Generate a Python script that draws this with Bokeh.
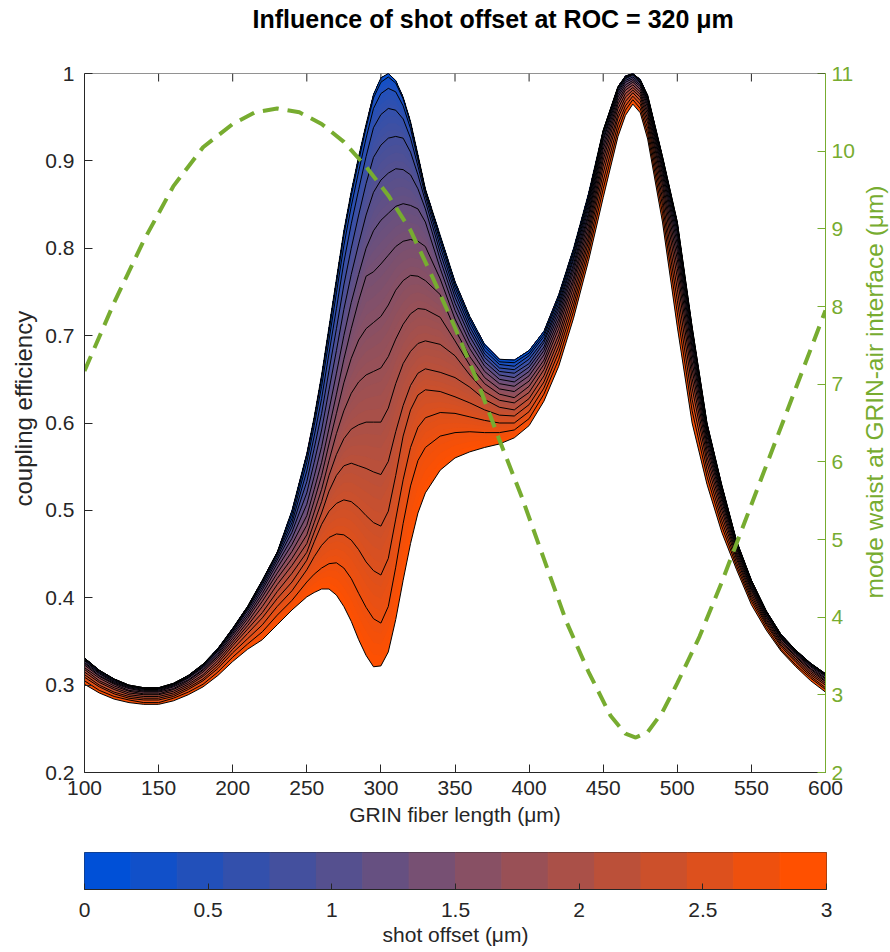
import numpy as np
from bokeh.plotting import figure
from bokeh.models import LinearAxis, Range1d, FixedTicker, Span, Title
from bokeh.layouts import column, row
from bokeh.embed import file_html
from bokeh.resources import INLINE

# ---------------- data ----------------
fiber_length = [100, 110, 120, 130, 140, 150, 160, 170, 180, 190, 200, 210, 220, 230, 240,
                250, 255, 260, 265, 270, 275, 280, 285, 290, 295, 300, 305, 310, 315, 320, 325, 330,
                340, 350, 360, 370, 380, 390, 400, 410, 420, 430, 440, 450, 460,
                465, 470, 475, 480, 490, 500, 510, 520, 530, 540, 550, 560, 570, 580, 590, 600]

shot_offsets = [0.0, 0.2, 0.4, 0.6, 0.8, 1.0, 1.2, 1.4, 1.6, 1.8, 2.0, 2.2, 2.4, 2.6, 2.8, 3.0]

eff_00 = [.331, .317, .307, .300, .297, .297, .302, .311, .324, .342, .365, .390, .420, .452, .500,
          .565, .607, .655, .710, .765, .820, .865, .905, .942, .976, .995, 1.000, .992, .973, .945, .907, .868,
          .815, .762, .722, .690, .673, .672, .683, .705, .747, .800, .862, .935, .985,
          .997, 1.000, .993, .975, .905, .830, .710, .600, .529, .465, .420, .385, .358, .340, .325, .313]
eff_02 = [.331, .317, .307, .300, .297, .297, .302, .311, .324, .342, .365, .390, .420, .452, .496,
          .562, .604, .651, .705, .760, .815, .860, .900, .938, .972, .990, .996, .989, .971, .943, .905, .867,
          .812, .759, .719, .687, .670, .669, .680, .702, .744, .797, .859, .935, .985,
          .997, 1.000, .993, .975, .905, .830, .710, .600, .529, .465, .420, .385, .358, .340, .325, .313]
eff_04 = [.331, .317, .307, .300, .297, .297, .302, .311, .324, .341, .364, .389, .419, .451, .491,
          .555, .597, .642, .695, .749, .803, .848, .888, .926, .960, .977, .983, .979, .963, .937, .901, .864,
          .808, .755, .715, .683, .667, .665, .677, .699, .741, .794, .856, .934, .984,
          .996, .999, .992, .974, .904, .828, .708, .599, .528, .464, .420, .385, .358, .340, .325, .313]
eff_06 = [.330, .316, .306, .299, .296, .296, .301, .310, .323, .341, .364, .388, .417, .449, .486,
          .545, .585, .628, .680, .731, .784, .828, .867, .905, .938, .953, .960, .958, .948, .926, .894, .860,
          .802, .750, .710, .679, .663, .661, .673, .695, .737, .790, .853, .932, .983,
          .995, .999, .992, .973, .902, .825, .706, .597, .527, .464, .419, .384, .357, .339, .324, .312]
eff_08 = [.329, .315, .305, .299, .296, .296, .301, .309, .322, .340, .362, .387, .415, .446, .481,
          .533, .571, .611, .660, .708, .758, .800, .838, .874, .904, .918, .926, .928, .926, .910, .884, .854,
          .795, .744, .705, .675, .659, .657, .668, .692, .733, .787, .849, .930, .981,
          .994, .998, .990, .971, .900, .822, .702, .595, .525, .463, .418, .383, .357, .339, .324, .312]
eff_10 = [.328, .314, .304, .298, .295, .295, .300, .309, .321, .339, .361, .385, .412, .443, .475,
          .520, .555, .592, .638, .683, .730, .770, .805, .838, .864, .878, .886, .891, .890, .884, .868, .845,
          .787, .737, .699, .670, .655, .652, .664, .687, .729, .782, .845, .926, .979,
          .992, .996, .989, .969, .897, .817, .698, .592, .523, .461, .417, .383, .356, .338, .323, .311]
eff_12 = [.326, .313, .303, .297, .294, .294, .299, .308, .320, .337, .359, .382, .409, .439, .468,
          .507, .539, .573, .615, .657, .700, .738, .770, .800, .820, .832, .840, .848, .851, .849, .845, .830,
          .777, .729, .692, .665, .650, .647, .659, .683, .724, .778, .840, .923, .976,
          .990, .994, .987, .967, .893, .811, .692, .589, .520, .460, .416, .382, .355, .337, .322, .310]
eff_14 = [.325, .311, .302, .296, .293, .293, .298, .306, .318, .335, .357, .379, .405, .434, .461,
          .494, .524, .555, .594, .633, .673, .708, .740, .768, .773, .782, .792, .802, .808, .810, .808, .802,
          .765, .719, .685, .659, .645, .642, .654, .678, .719, .773, .836, .918, .973,
          .987, .992, .985, .964, .889, .804, .686, .585, .517, .458, .414, .380, .354, .336, .321, .308]
eff_16 = [.323, .310, .301, .294, .292, .292, .296, .305, .317, .333, .354, .376, .401, .428, .453,
          .483, .511, .540, .576, .611, .646, .674, .695, .708, .715, .722, .735, .752, .763, .769, .768, .763,
          .747, .707, .676, .652, .639, .636, .648, .672, .714, .767, .831, .913, .969,
          .984, .990, .982, .961, .884, .796, .679, .580, .514, .456, .412, .379, .353, .335, .319, .307]
eff_18 = [.320, .308, .299, .293, .290, .290, .295, .303, .315, .331, .351, .372, .396, .422, .445,
          .472, .498, .524, .557, .588, .614, .634, .647, .655, .659, .663, .676, .696, .713, .725, .731, .730,
          .721, .694, .666, .645, .633, .629, .642, .667, .708, .762, .825, .907, .965,
          .981, .987, .979, .957, .878, .787, .670, .575, .510, .453, .410, .377, .351, .333, .318, .305]
eff_20 = [.318, .305, .297, .291, .289, .289, .293, .301, .312, .328, .348, .368, .390, .415, .437,
          .462, .486, .510, .540, .564, .582, .593, .598, .601, .601, .601, .617, .645, .668, .682, .691, .694,
          .690, .677, .655, .636, .626, .623, .635, .661, .701, .756, .819, .901, .960,
          .977, .984, .976, .953, .872, .777, .661, .569, .505, .450, .408, .375, .350, .332, .316, .304]
eff_22 = [.315, .303, .295, .289, .287, .287, .291, .299, .310, .325, .345, .364, .383, .407, .428,
          .452, .475, .497, .522, .540, .551, .554, .551, .548, .544, .541, .556, .590, .620, .643, .657, .662,
          .658, .652, .641, .627, .618, .615, .628, .654, .695, .749, .813, .894, .954,
          .973, .981, .973, .948, .865, .766, .651, .562, .500, .447, .405, .373, .348, .330, .314, .302]
eff_24 = [.312, .300, .292, .287, .285, .285, .289, .297, .307, .322, .341, .359, .377, .399, .418,
          .443, .464, .484, .499, .508, .512, .510, .503, .494, .486, .482, .499, .540, .585, .615, .632, .638,
          .636, .630, .623, .615, .609, .608, .621, .647, .688, .742, .807, .886, .949,
          .968, .978, .969, .943, .857, .753, .640, .555, .494, .444, .402, .371, .346, .328, .312, .300]
eff_26 = [.309, .298, .290, .285, .283, .283, .287, .295, .305, .319, .337, .353, .369, .390, .408,
          .432, .447, .460, .469, .473, .472, .466, .455, .441, .431, .426, .445, .490, .535, .572, .595, .606,
          .612, .611, .607, .603, .600, .600, .613, .640, .681, .735, .800, .877, .942,
          .963, .974, .965, .937, .849, .740, .627, .547, .488, .440, .399, .369, .344, .326, .310, .297]
eff_28 = [.305, .294, .287, .283, .280, .280, .285, .292, .301, .315, .332, .347, .361, .380, .397,
          .418, .427, .434, .439, .440, .434, .422, .405, .389, .376, .371, .390, .435, .485, .528, .557, .572,
          .585, .589, .590, .589, .589, .592, .605, .633, .673, .728, .793, .868, .935,
          .958, .970, .960, .931, .840, .726, .614, .539, .482, .436, .396, .366, .341, .323, .308, .295]
eff_30 = [.301, .291, .284, .280, .278, .278, .282, .289, .298, .311, .327, .341, .352, .369, .386,
          .401, .406, .410, .410, .403, .390, .373, .352, .334, .321, .322, .338, .375, .420, .462, .497, .520,
          .546, .560, .567, .572, .576, .583, .597, .625, .665, .720, .785, .858, .928,
          .952, .965, .955, .925, .830, .710, .600, .530, .475, .432, .392, .363, .339, .321, .305, .292]

efficiency_curves = [eff_00, eff_02, eff_04, eff_06, eff_08, eff_10, eff_12, eff_14,
                     eff_16, eff_18, eff_20, eff_22, eff_24, eff_26, eff_28, eff_30]

waist_length = [100, 120, 140, 160, 180, 200, 215, 230, 245, 260, 275, 290, 305, 320, 335, 350, 365,
                380, 395, 410, 425, 440, 455, 465, 472, 480, 490, 500, 515, 530, 545, 560, 580, 600]
waist_um = [7.17, 8.05, 8.85, 9.55, 10.05, 10.35, 10.5, 10.55, 10.5, 10.35, 10.12, 9.8, 9.43, 8.98, 8.37,
            7.73, 7.04, 6.28, 5.55, 4.75, 3.95, 3.3, 2.73, 2.5, 2.45, 2.52, 2.78, 3.15, 3.75, 4.45, 5.2,
            5.95, 6.95, 7.95]

x_ticks = [100, 150, 200, 250, 300, 350, 400, 450, 500, 550, 600]
y_ticks = [0.2, 0.3, 0.4, 0.5, 0.6, 0.7, 0.8, 0.9, 1.0]
waist_ticks = [2, 3, 4, 5, 6, 7, 8, 9, 10, 11]
cbar_ticks = [0, 0.5, 1, 1.5, 2, 2.5, 3]

# ---------------- style ----------------
FONT = "Liberation Sans"
DARK = "#262626"
GREEN = "#77AC30"
C_LOW = (0, 80, 215)
C_HIGH = (255, 80, 0)
TICK_FS = "21px"
LABEL_FS = "21px"
YLABEL_FS = "24px"
RLABEL_FS = "24.5px"
TICK_LEN = 8

W = 890
FRAME_TOP, FRAME_H, FRAME_BOTTOM = 73, 699, 772
H_TITLE = 38
B_LEFT, B_RIGHT, B_BOTTOM = 84, 64, 60
B_TOP = FRAME_TOP - H_TITLE
H_MAIN = B_TOP + FRAME_H + B_BOTTOM
H_CB = 952 - H_TITLE - H_MAIN
P_W = 857                     # main plot width (frame right edge at W - B_RIGHT)
P_B_RIGHT = P_W - (W - B_RIGHT)


def blend(t):
    r = round(C_LOW[0] + (C_HIGH[0] - C_LOW[0]) * t)
    g = round(C_LOW[1] + (C_HIGH[1] - C_LOW[1]) * t)
    b = round(C_LOW[2] + (C_HIGH[2] - C_LOW[2]) * t)
    return "#%02x%02x%02x" % (r, g, b)


def style_axis(ax, color):
    ax.axis_line_color = color
    ax.axis_line_width = 1
    ax.major_tick_line_color = color
    ax.major_tick_in = TICK_LEN
    ax.major_tick_out = 0
    ax.minor_tick_line_color = None
    ax.major_label_text_color = color
    ax.major_label_text_font = FONT
    ax.major_label_text_font_size = TICK_FS
    ax.axis_label_text_font = FONT
    ax.axis_label_text_font_size = LABEL_FS
    ax.axis_label_text_font_style = "normal"
    ax.axis_label_text_color = color


npts = min(len(fiber_length), *[len(c) for c in efficiency_curves])
x = np.array(fiber_length[:npts], dtype=float)
curves = [np.array(c[:npts], dtype=float) for c in efficiency_curves]
n = len(curves)

# ---------------- title strip ----------------
tf = figure(width=W, height=H_TITLE, x_range=Range1d(0, 1), y_range=Range1d(0, 1),
            output_backend="svg", toolbar_location=None, x_axis_location=None, y_axis_location=None,
            min_border_left=B_LEFT, min_border_right=B_RIGHT, min_border_top=0, min_border_bottom=0)
tf.grid.visible = False
tf.outline_line_color = None
tf.title.text = "Influence of shot offset at ROC = 320 μm"
tf.title.text_font = FONT
tf.title.text_font_size = "25px"
tf.title.text_font_style = "bold"
tf.title.text_color = "black"
tf.title.align = "left"
tf.title.offset = 168
tf.title.standoff = 4

# ---------------- main plot ----------------
y_lo, y_hi = 0.2, 1.0
x_lo, x_hi = 100, 600
p = figure(width=P_W, height=H_MAIN, x_range=Range1d(x_lo, x_hi), y_range=Range1d(y_lo, y_hi),
           output_backend="svg", toolbar_location=None,
           min_border_left=B_LEFT, min_border_right=P_B_RIGHT, min_border_top=B_TOP, min_border_bottom=B_BOTTOM)
p.extra_y_ranges = {"waist": Range1d(2, 11)}
p.grid.visible = False
p.outline_line_color = None
p.background_fill_color = "white"
p.border_fill_color = "white"

# filled bands: colour interpolated from one curve's colour to the next, painted cumulatively
nsub = 4
levels = []
for k in range(n - 1):
    for j in range(nsub):
        t1 = (j + 1) / nsub
        ybot = curves[k] + (curves[k + 1] - curves[k]) * t1
        color = blend((k + (j + 0.5) / nsub) / (n - 1))
        levels.append((ybot, color))
for ybot, color in reversed(levels):
    p.varea(x=x, y1=curves[0], y2=ybot, fill_color=color, fill_alpha=1.0)

for c in curves:
    p.line(x, c, line_color="black", line_width=1)

p.line(waist_length, waist_um, y_range_name="waist", line_color=GREEN, line_width=4, line_dash="16 9")

# axes
p.xaxis.ticker = FixedTicker(ticks=x_ticks)
p.yaxis.ticker = FixedTicker(ticks=y_ticks)
p.yaxis.major_label_overrides = {1: "1"}
style_axis(p.xaxis[0], DARK)
style_axis(p.yaxis[0], DARK)
p.xaxis.axis_label = "GRIN fiber length (μm)"
p.xaxis.major_label_standoff = 8
p.xaxis.axis_label_standoff = 5
p.yaxis.major_label_standoff = 10

# left axis title (reads bottom-to-top), positioned along the frame
p.add_layout(Title(text="coupling efficiency", align="left", offset=FRAME_BOTTOM - 506, standoff=11,
                   text_font=FONT, text_font_size=YLABEL_FS, text_font_style="normal",
                   text_color=DARK), "left")

# box top edge with inward ticks
p.add_layout(Span(location=y_hi, dimension="width", line_color=DARK, line_width=1))
tick_dy = TICK_LEN * (y_hi - y_lo) / FRAME_H
p.segment(x0=x_ticks, y0=[y_hi] * len(x_ticks), x1=x_ticks, y1=[y_hi - tick_dy] * len(x_ticks),
          line_color=DARK, line_width=1)

right_axis = LinearAxis(y_range_name="waist", ticker=FixedTicker(ticks=waist_ticks))
style_axis(right_axis, GREEN)
right_axis.major_label_standoff = 6
p.add_layout(right_axis, "right")

# right axis title in a narrow strip (reads bottom-to-top like the reference)
rf = figure(width=W - P_W, height=H_MAIN, x_range=Range1d(0, 1), y_range=Range1d(0, 1),
            output_backend="svg", toolbar_location=None, x_axis_location=None, y_axis_location=None,
            min_border_left=W - P_W - 2, min_border_right=0, min_border_top=B_TOP, min_border_bottom=B_BOTTOM)
rf.grid.visible = False
rf.outline_line_color = None
rf.add_layout(Title(text="mode waist at GRIN-air interface (μm)", align="left", offset=FRAME_BOTTOM - 598,
                    standoff=2, text_font=FONT, text_font_size=RLABEL_FS, text_font_style="normal",
                    text_color=GREEN), "left")

# ---------------- colour bar ----------------
CB_TOP, CB_H = 852, 37
cb_border_top = CB_TOP - H_TITLE - H_MAIN
cb = figure(width=W, height=H_CB, x_range=Range1d(0, 3), y_range=Range1d(0, 1),
            output_backend="svg", toolbar_location=None,
            min_border_left=B_LEFT, min_border_right=B_RIGHT, min_border_top=cb_border_top,
            min_border_bottom=H_CB - cb_border_top - CB_H)
cb.grid.visible = False
cb.yaxis.visible = False
cb.outline_line_color = DARK
cb.outline_line_width = 1
cb.border_fill_color = "white"
lo, hi = min(shot_offsets), max(shot_offsets)
edges = np.linspace(lo, hi, len(shot_offsets) + 1)
palette = [blend(i / (len(shot_offsets) - 1)) for i in range(len(shot_offsets))]
cb.quad(left=edges[:-1], right=edges[1:], bottom=0, top=1, fill_color=palette, line_color=palette,
        line_width=1)
cb.xaxis.ticker = FixedTicker(ticks=cbar_ticks)
cb.xaxis.major_label_overrides = {0: "0", 1: "1", 2: "2", 3: "3"}
style_axis(cb.xaxis[0], DARK)
cb.xaxis.major_tick_in = 6
cb.xaxis.axis_label = "shot offset (μm)"
cb.xaxis.major_label_standoff = 13
cb.xaxis.axis_label_standoff = 3

layout = column(tf, row(p, rf, spacing=0), cb, spacing=0)
open("out.html", "w").write(file_html(layout, INLINE))
